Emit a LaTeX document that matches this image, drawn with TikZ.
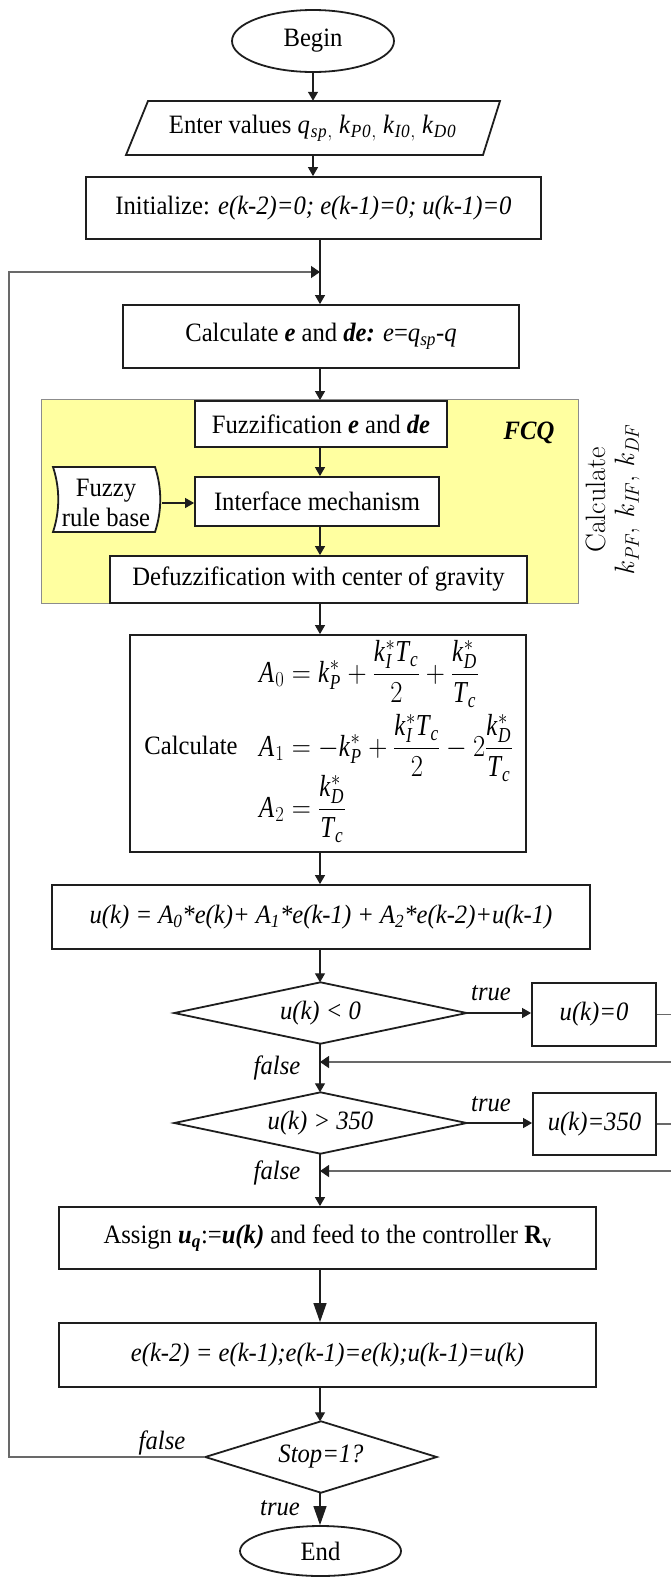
\RequirePackage{fix-cm}
\documentclass[tikz,border=0pt]{standalone}
\usepackage{amsmath}
\usepackage{graphicx}
\usepackage{fontspec}
\setmainfont{Liberation Serif}[FakeStretch=0.93]
\newfontfamily\lmr{Latin Modern Roman}
\usetikzlibrary{arrows.meta,shapes.geometric}
\definecolor{fcqyellow}{RGB}{255,255,160}
\definecolor{edgec}{RGB}{30,30,30}
\definecolor{loopgray}{RGB}{105,105,105}
\begin{document}
\begin{tikzpicture}[x=1pt,y=-1pt,
  font=\fontsize{26.5}{30}\selectfont,
  blk/.style={draw=edgec, line width=1.8pt, fill=white, inner sep=0pt, align=center},
  ghost/.style={inner sep=0pt, align=center},
  shapeline/.style={draw=edgec, line width=1.8pt, fill=white},
  conn/.style={draw=edgec, line width=1.2pt, -{Triangle[length=9pt,width=10pt]}},
  bigconn/.style={draw=edgec, line width=1.2pt, -{Triangle[length=19pt,width=13pt]}},
  back/.style={draw=loopgray, line width=1.4pt, -{Triangle[length=9pt,width=12pt,color=edgec]}},
  lbl/.style={inner sep=0pt, font=\fontsize{26.5}{30}\selectfont\itshape}]
\useasboundingbox (0,0) rectangle (671,1577);

% Begin
\node[ghost, ellipse, draw=edgec, line width=1.8pt, minimum width=162, minimum height=62] (begin) at (313,41) {Begin};

% Enter values (parallelogram)
\draw[shapeline] (126,155) -- (148,101) -- (500,101) -- (483,155) -- cycle;
\node[ghost, minimum width=357, minimum height=54] (enter) at (313,128)
  {Enter values $\mathit{q}_{\mathit{sp,}}$ $\mathit{k}_{\mathit{P0,}}$ $\mathit{k}_{\mathit{I0,}}$ $\mathit{k}_{\mathit{D0}}$};

% Initialize
\node[blk, minimum width=455, minimum height=62] (init) at (313.5,208)
  {Initialize: \textit{e(k-2)=0; e(k-1)=0; u(k-1)=0}};

\coordinate (join) at (320,272);

% Calculate e
\node[blk, minimum width=396, minimum height=63] (calc) at (321,336.5)
  {Calculate \textbf{\textit{e}} and \textbf{\textit{de:}} \textit{e}=\textit{q}\textsubscript{\textit{sp}}-\textit{q}};

% FCQ block
\node[draw=black!45, line width=1pt, fill=fcqyellow, inner sep=0pt, minimum width=537, minimum height=204] (fcq) at (310,501) {};
\node[blk, minimum width=252, minimum height=46] (fuzz) at (321,424)
  {Fuzzification \textbf{\textit{e}} and \textbf{\textit{de}}};
\node[ghost, font=\fontsize{26.5}{30}\selectfont\bfseries\itshape] (fcqlabel) at (529,433) {FCQ};
\node[blk, minimum width=244, minimum height=49] (intf) at (317,501.5) {Interface mechanism};
\draw[shapeline] (53,467) -- (155,467) .. controls (162,488) and (162,511) .. (155,532)
  -- (53,532) .. controls (60,511) and (60,488) .. (53,467) -- cycle;
\node[ghost, minimum width=112, minimum height=65, font=\fontsize{26.5}{30}\selectfont] (rules) at (106,503) {Fuzzy\\rule base};
\node[blk, minimum width=417, minimum height=47] (defuzz) at (318.5,579.5) {Defuzzification with center of gravity};

% rotated label
\node[ghost, rotate=90, font=\lmr\fontsize{28}{29}\selectfont] (kcalc) at (613,500)
  {Calculate\\\textit{k}\textsubscript{\textit{PF}},\ \textit{k}\textsubscript{\textit{IF}},\ \textit{k}\textsubscript{\textit{DF}}};

% Calculate A
\node[blk, minimum width=396, minimum height=217] (abox) at (328,743.5) {};
\node[ghost] (acalc) at (191,745) {Calculate};
\node[ghost, anchor=west] (a0) at (259,674)
  {\scalebox{1}[1.15]{$\mathit{A}_{0}=\mathit{k}^{*}_{\mathit{P}}+\dfrac{\mathit{k}^{*}_{\mathit{I}}\mathit{T}_{\mathit{c}}}{2}+\dfrac{\mathit{k}^{*}_{\mathit{D}}}{\mathit{T}_{\mathit{c}}}$}};
\node[ghost, anchor=west] (a1) at (259,748)
  {\scalebox{1}[1.15]{$\mathit{A}_{1}=-\mathit{k}^{*}_{\mathit{P}}+\dfrac{\mathit{k}^{*}_{\mathit{I}}\mathit{T}_{\mathit{c}}}{2}-2\dfrac{\mathit{k}^{*}_{\mathit{D}}}{\mathit{T}_{\mathit{c}}}$}};
\node[ghost, anchor=west] (a2) at (259,809)
  {\scalebox{1}[1.15]{$\mathit{A}_{2}=\dfrac{\mathit{k}^{*}_{\mathit{D}}}{\mathit{T}_{\mathit{c}}}$}};

% u(k)
\node[blk, minimum width=538, minimum height=64] (ubox) at (321,917)
  {\textit{u(k) = A\textsubscript{0}*e(k)+ A\textsubscript{1}*e(k-1) + A\textsubscript{2}*e(k-2)+u(k-1)}};

% decision 1
\node[ghost, minimum width=292, minimum height=61] (d1) at (320.5,1013) {};
\draw[shapeline] (d1.north) -- (d1.east) -- (d1.south) -- (d1.west) -- cycle;
\node[ghost] at (d1) {\textit{u(k) < 0}};
\node[blk, minimum width=124, minimum height=63] (b0) at (594,1014.5) {\textit{u(k)=0}};
\node[lbl] (t1) at (491,993) {true};
\node[lbl] (f1) at (277,1068) {false};

% decision 2
\node[ghost, minimum width=292, minimum height=61] (d2) at (320.5,1123) {};
\draw[shapeline] (d2.north) -- (d2.east) -- (d2.south) -- (d2.west) -- cycle;
\node[ghost] at (d2) {\textit{u(k) > 350}};
\node[blk, minimum width=123, minimum height=62] (b350) at (594.5,1124) {\textit{u(k)=350}};
\node[lbl] (t2) at (491,1104) {true};
\node[lbl] (f2) at (277,1173) {false};

% Assign
\node[blk, minimum width=537, minimum height=62] (assign) at (327.5,1238)
  {Assign \textbf{\textit{u}}\textsubscript{\textbf{\textit{q}}}:=\textbf{\textit{u(k)}} and feed to the controller \textbf{R}\textsubscript{\textbf{v}}};

% update
\node[blk, minimum width=537, minimum height=64] (ebox) at (327.5,1355)
  {\textit{e(k-2) = e(k-1);e(k-1)=e(k);u(k-1)=u(k)}};

% stop
\node[ghost, minimum width=231, minimum height=71] (stop) at (321,1457) {};
\draw[shapeline] (stop.north) -- (stop.east) -- (stop.south) -- (stop.west) -- cycle;
\node[ghost] at (stop) {\textit{Stop=1?}};
\node[lbl] (f3) at (162,1443) {false};
\node[lbl] (t3) at (280,1508) {true};

% End
\node[ghost, ellipse, draw=edgec, line width=1.8pt, minimum width=161, minimum height=50] (end) at (320.5,1551) {End};

% connectors
\draw[conn] (begin.south) -- (enter.north);
\draw[conn] (enter.south) -- (enter.south |- init.north);
\draw[conn] (init.south -| join) -- (calc.north -| join);
\draw[conn] (calc.south -| join) -- (fuzz.north -| join);
\draw[conn] (fuzz.south -| join) -- (intf.north -| join);
\draw[conn] (rules.east) -- (intf.west |- rules.east);
\draw[conn] (intf.south -| join) -- (defuzz.north -| join);
\draw[conn] (defuzz.south -| join) -- (abox.north -| join);
\draw[conn] (abox.south -| join) -- (ubox.north -| join);
\draw[conn] (ubox.south -| join) -- (d1.north -| join);
\draw[conn] (d1.east) -- (b0.west |- d1.east);
\draw[conn] (d1.south -| join) -- (d2.north -| join);
\draw[conn] (d2.east) -- (b350.west |- d2.east);
\draw[conn] (d2.south -| join) -- (assign.north -| join);
\draw[bigconn] (assign.south -| join) -- (ebox.north -| join);
\draw[conn] (ebox.south -| join) -- (stop.north -| join);
\draw[bigconn] (stop.south -| join) -- (end.north -| join);

% right-hand returns (run off the page edge)
\coordinate (r1a) at (690,1014.5);
\coordinate (r1b) at (690,1062);
\coordinate (m1) at (320,1062);
\draw[back] (b0.east) -- (r1a) -- (r1b) -- (m1);
\coordinate (r2a) at (690,1124);
\coordinate (r2b) at (690,1171);
\coordinate (m2) at (320,1171);
\draw[back] (b350.east) -- (r2a) -- (r2b) -- (m2);

% loop back
\coordinate (lb) at (9,1457);
\coordinate (lt) at (9,272);
\draw[back] (stop.west) -- (lb) -- (lt) -- (join);
\end{tikzpicture}
\end{document}
